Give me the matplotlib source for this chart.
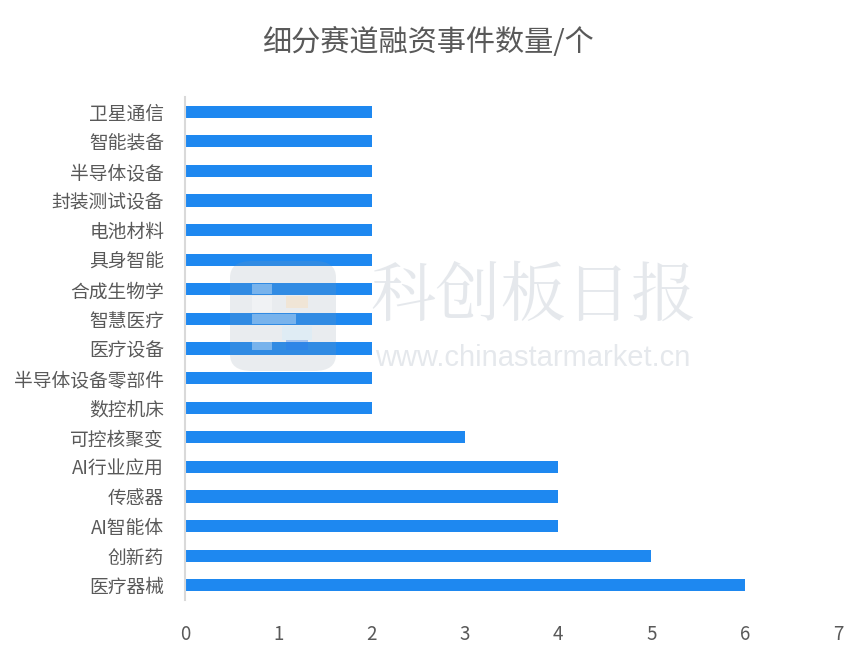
import matplotlib
matplotlib.use("Agg")
import matplotlib.pyplot as plt
from matplotlib.patches import FancyBboxPatch, Rectangle

plt.rcParams['font.family'] = ['Noto Sans CJK SC', 'DejaVu Sans']

# data, top to bottom as shown in the chart
categories = ['卫星通信', '智能装备', '半导体设备', '封装测试设备', '电池材料', '具身智能',
              '合成生物学', '智慧医疗', '医疗设备', '半导体设备零部件', '数控机床',
              '可控核聚变', 'AI行业应用', '传感器', 'AI智能体', '创新药', '医疗器械']
counts = [2, 2, 2, 2, 2, 2, 2, 2, 2, 2, 2, 3, 4, 4, 4, 5, 6]
x_ticks = [0, 1, 2, 3, 4, 5, 6, 7]

text_color = '#595959'
bar_color = '#1e88f0'

fig = plt.figure(figsize=(8.68, 6.55), dpi=100)
ax = fig.add_axes([185 / 868, 1 - 600 / 655, (838 - 185) / 868, (600 - 97) / 655])

# reverse so first category ends up on top
pos = list(range(len(categories)))[::-1]
ax.barh(pos, counts, height=0.41, color=bar_color, zorder=2)

ax.set_xlim(0, 7)
ax.set_ylim(-0.5, len(categories) - 0.5)
ax.set_xticks(x_ticks)
ax.set_xticklabels([str(t) for t in x_ticks])
ax.set_yticks(pos)
ax.set_yticklabels(categories)

for s in ['top', 'right', 'bottom']:
    ax.spines[s].set_visible(False)
ax.spines['left'].set_color('#d9d9d9')
ax.spines['left'].set_linewidth(1.5)
ax.tick_params(axis='both', length=0, colors=text_color)
ax.tick_params(axis='y', pad=15, labelsize=13.5)
ax.tick_params(axis='x', pad=17, labelsize=13.5)
for lab in ax.get_xticklabels() + ax.get_yticklabels():
    lab.set_fontweight('light')

fig.text(428 / 868, 1 - 43 / 655, '细分赛道融资事件数量/个', ha='center', va='center',
         fontsize=21, color=text_color, fontweight='light')

# faint watermark
logo = FancyBboxPatch((230 / 868, 1 - 371 / 655), 106 / 868, 110 / 655,
                      boxstyle='round,pad=0,rounding_size=0.025',
                      transform=fig.transFigure, facecolor='#8a9aa8', alpha=0.18,
                      edgecolor='none', zorder=5)
fig.patches.append(logo)
tiles = [(252, 284, 20, 10, '#ffffff'), (252, 296, 20, 16, '#ffffff'),
         (252, 314, 44, 10, '#ffffff'), (252, 340, 20, 10, '#ffffff'),
         (286, 296, 22, 12, '#ffd9a8'), (282, 326, 30, 14, '#cfeeff'),
         (286, 340, 22, 10, '#2a7cf0')]
for tx, ty, tw, th, tc in tiles:
    fig.patches.append(Rectangle((tx / 868, 1 - (ty + th) / 655), tw / 868, th / 655,
                                 transform=fig.transFigure, facecolor=tc, alpha=0.35,
                                 edgecolor='none', zorder=6))
fig.text(533 / 868, 1 - 298 / 655, '科创板日报', ha='center', va='center',
         fontsize=47, color='#dfe3e8', alpha=0.8, family=['Noto Serif CJK SC', 'Noto Sans CJK SC'])
fig.text(533 / 868, 1 - 358 / 655, 'www.chinastarmarket.cn', ha='center', va='center',
         fontsize=21, color='#dfe3e8', alpha=0.8, family=['Liberation Sans', 'DejaVu Sans'])

fig.savefig('out.png', dpi=100)
